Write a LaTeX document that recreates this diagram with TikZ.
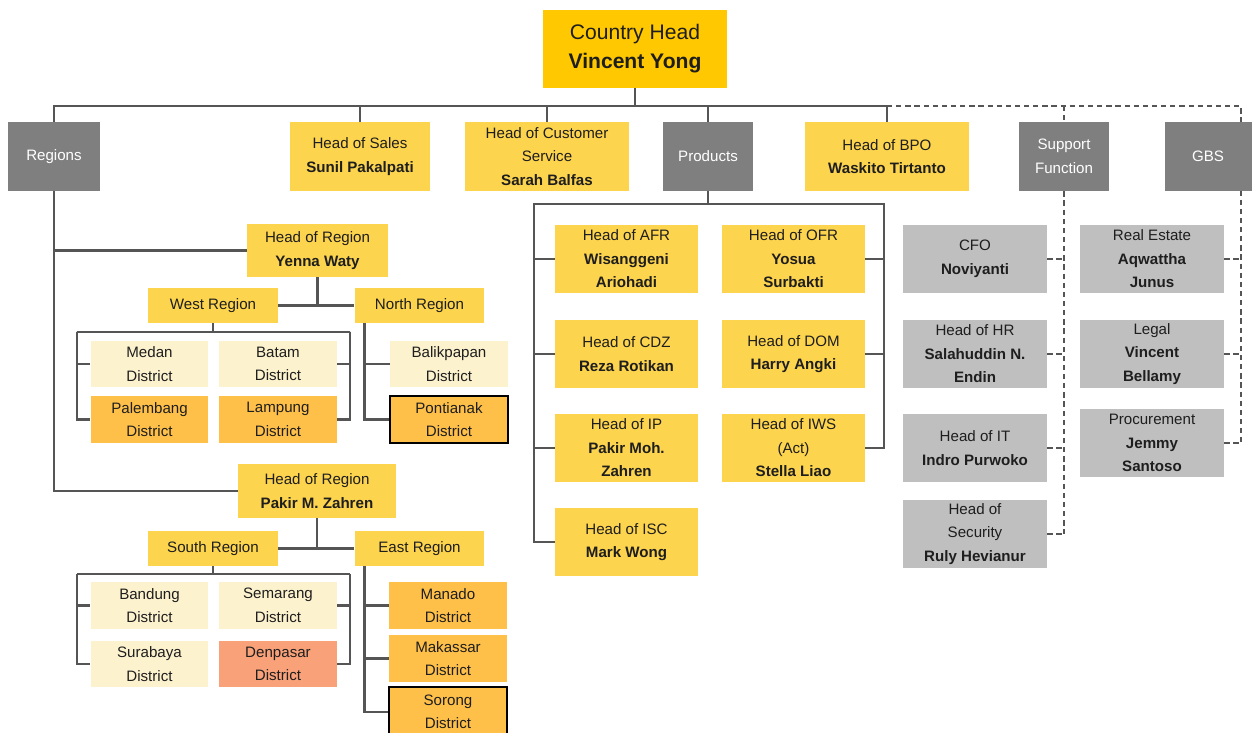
\documentclass[tikz,border=0pt]{standalone}
\usepackage{fontspec}
\setmainfont{Liberation Sans}
\usetikzlibrary{positioning, backgrounds}
\definecolor{gold}{HTML}{FFC800}
\definecolor{ylw}{HTML}{FDD44E}
\definecolor{cream}{HTML}{FDF2CE}
\definecolor{amber}{HTML}{FFC04A}
\definecolor{salmon}{HTML}{F9A27A}
\definecolor{dgrey}{HTML}{7F7F7F}
\definecolor{lgrey}{HTML}{BFBFBF}
\definecolor{wire}{HTML}{555555}
\definecolor{txt}{HTML}{1E1E1E}
\tikzset{
  box/.style={fill=ylw, draw=none, align=center, inner sep=1pt,
              font=\fontsize{8.6}{13.4}\selectfont, text=txt},
  topbox/.style={box, fill=gold, font=\fontsize{12}{16.4}\selectfont,
                 minimum width=3.68cm, minimum height=1.56cm},
  rowbox/.style={box, minimum height=1.38cm},
  grpbox/.style={rowbox, fill=dgrey, text=white},
  prodbox/.style={box, minimum width=2.86cm, minimum height=1.36cm},
  supbox/.style={prodbox, fill=lgrey, minimum width=2.88cm},
  regbox/.style={box, minimum width=2.6cm, minimum height=0.7cm},
  distbox/.style={box, fill=cream, minimum width=2.36cm, minimum height=0.94cm},
  hot/.style={draw=black, line width=1.6pt},
  ln/.style={draw=wire, line width=1.4pt},
  dln/.style={draw=wire, line width=1.3pt, dash pattern=on 3pt off 2.2pt},
}
\begin{document}
\begin{tikzpicture}[x=0.02cm, y=-0.02cm]
  \useasboundingbox (0,0) rectangle (1252,733);
  \clip (0,0) rectangle (1252,733);
  % top level
  \node[topbox] (ch) at (635,49) {Country Head\\\textbf{Vincent Yong}};
  \node[grpbox, minimum width=1.84cm] (reg) at (54,156.5) {Regions};
  \node[rowbox, minimum width=2.82cm] (sales) at (360,156.5) {Head of Sales\\\textbf{Sunil Pakalpati}};
  \node[rowbox, minimum width=3.28cm] (cs) at (547,156.5) {Head of Customer\\Service\\\textbf{Sarah Balfas}};
  \node[grpbox, minimum width=1.82cm] (prod) at (708,156.5) {Products};
  \node[rowbox, minimum width=3.28cm] (bpo) at (887,156.5) {Head of BPO\\\textbf{Waskito Tirtanto}};
  \node[grpbox, minimum width=1.80cm] (sup) at (1064,156.5) {Support\\Function};
  \node[grpbox, minimum width=1.74cm] (gbs) at (1208,156.5) {GBS};
  \coordinate (bus) at (0,106);
  \coordinate (gr) at (1241,106);

  % products
  \node[prodbox] (afr) at (626.5,259) {Head of AFR\\\textbf{Wisanggeni}\\\textbf{Ariohadi}};
  \node[prodbox] (cdz) at (626.5,354) {Head of CDZ\\\textbf{Reza Rotikan}};
  \node[prodbox] (ip) at (626.5,448) {Head of IP\\\textbf{Pakir Moh.}\\\textbf{Zahren}};
  \node[prodbox] (isc) at (626.5,542) {Head of ISC\\\textbf{Mark Wong}};
  \node[prodbox] (ofr) at (793.5,259) {Head of OFR\\\textbf{Yosua}\\\textbf{Surbakti}};
  \node[prodbox] (dom) at (793.5,354) {Head of DOM\\\textbf{Harry Angki}};
  \node[prodbox] (iws) at (793.5,448) {Head of IWS\\(Act)\\\textbf{Stella Liao}};
  \coordinate (pl) at (534,204);
  \coordinate (pr) at (884,204);

  % support function and gbs
  \node[supbox] (cfo) at (975,259) {CFO\\\textbf{Noviyanti}};
  \node[supbox] (hr) at (975,354) {Head of HR\\\textbf{Salahuddin N.}\\\textbf{Endin}};
  \node[supbox] (it) at (975,448) {Head of IT\\\textbf{Indro Purwoko}};
  \node[supbox] (sec) at (975,534) {Head of\\Security\\\textbf{Ruly Hevianur}};
  \node[supbox] (re) at (1152,259) {Real Estate\\\textbf{Aqwattha}\\\textbf{Junus}};
  \node[supbox] (legal) at (1152,354) {Legal\\\textbf{Vincent}\\\textbf{Bellamy}};
  \node[supbox] (proc) at (1152,443) {Procurement\\\textbf{Jemmy}\\\textbf{Santoso}};

  % regions
  \node[box, minimum width=2.82cm, minimum height=1.06cm] (yw) at (317.5,250.5) {Head of Region\\\textbf{Yenna Waty}};
  \node[regbox] (west) at (213,305.5) {West Region};
  \node[regbox] (north) at (419.5,305.5) {North Region};
  \node[distbox] (medan) at (149.5,364) {Medan\\District};
  \node[distbox] (batam) at (278,364) {Batam\\District};
  \node[distbox, fill=amber] (plb) at (149.5,419.5) {Palembang\\District};
  \node[distbox, fill=amber] (lmp) at (278,419.5) {Lampung\\District};
  \node[distbox] (bpp) at (449,364) {Balikpapan\\District};
  \node[distbox, fill=amber, hot] (ptk) at (449,419.5) {Pontianak\\District};
  \coordinate (wl) at (77,332);
  \coordinate (wr) at (350,332);

  \node[box, minimum width=3.16cm, minimum height=1.08cm] (pz) at (317,491) {Head of Region\\\textbf{Pakir M. Zahren}};
  \node[regbox] (south) at (213,548.5) {South Region};
  \node[regbox] (east) at (419.5,548.5) {East Region};
  \node[distbox] (bdg) at (149.5,605.5) {Bandung\\District};
  \node[distbox] (smg) at (278,605.5) {Semarang\\District};
  \node[distbox] (sby) at (149.5,664) {Surabaya\\District};
  \node[distbox, fill=salmon] (dps) at (278,664) {Denpasar\\District};
  \node[distbox, fill=amber] (mnd) at (448,605.5) {Manado\\District};
  \node[distbox, fill=amber] (mks) at (448,658.5) {Makassar\\District};
  \node[distbox, fill=amber, hot, minimum height=1.0cm] (srg) at (448,712) {Sorong\\District};
  \coordinate (sl) at (77,574);
  \coordinate (sr) at (350,574);

  \begin{scope}[on background layer]
    % top bus
    \draw[ln] (ch.south) -- (ch.south |- bus);
    \draw[ln] (reg.north) -- (reg.north |- bus) -- (bpo.north |- bus) -- (bpo.north);
    \foreach \n in {sales,cs,prod} \draw[ln] (\n.north) -- (\n.north |- bus);
    \draw[dln] (bpo.north |- bus) -- (gr) -- (gr |- proc.east);
    \draw[dln] (sup.north |- bus) -- (sup.north);
    % products
    \draw[ln] (prod.south) -- (prod.south |- pl);
    \draw[ln] (isc.west) -| (pl) -- (pr) |- (iws.east);
    \foreach \n in {afr,cdz,ip} \draw[ln] (\n.west) -- (\n.west -| pl);
    \foreach \n in {ofr,dom} \draw[ln] (\n.east) -- (\n.east -| pr);
    % support function and gbs
    \draw[dln] (sup.south) -- (sup.south |- sec.east);
    \foreach \n in {cfo,hr,it,sec} \draw[dln] (\n.east) -- (\n.east -| sup.south);
    \foreach \n in {re,legal,proc} \draw[dln] (\n.east) -- (\n.east -| gr);
    % regions
    \draw[ln] (reg.south) |- (yw.west);
    \draw[ln] (reg.south) |- (pz.west);
    \draw[ln] (yw.south) -- (yw.south |- west.east);
    \draw[ln] (west.east) -- (north.west);
    \draw[ln] (west.south) -- (west.south |- wl);
    \draw[ln] (medan.west) -| (wl) |- (plb.west);
    \draw[ln] (batam.east) -| (wr) |- (lmp.east);
    \draw[ln] (wl) -- (wr);
    \draw[ln] ([xshift=-1.1cm]north.south) |- (ptk.west);
    \draw[ln] (bpp.west) -- (bpp.west -| ptk.west) -- ++(-0.5cm,0);
    \draw[ln] (pz.south) -- (pz.south |- south.east);
    \draw[ln] (south.east) -- (east.west);
    \draw[ln] (south.south) -- (south.south |- sl);
    \draw[ln] (bdg.west) -| (sl) |- (sby.west);
    \draw[ln] (smg.east) -| (sr) |- (dps.east);
    \draw[ln] (sl) -- (sr);
    \draw[ln] ([xshift=-1.1cm]east.south) |- (srg.west);
    \draw[ln] (mnd.west) -- ++(-0.5cm,0);
    \draw[ln] (mks.west) -- ++(-0.5cm,0);
  \end{scope}
\end{tikzpicture}
\end{document}
